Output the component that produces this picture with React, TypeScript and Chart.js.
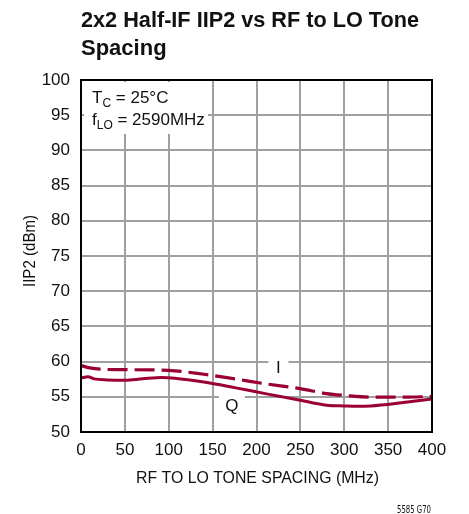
import React, { useEffect, useRef } from "react";
import { Chart, registerables } from "chart.js";

Chart.register(...registerables);

const titleLines = ["2x2 Half-IF IIP2 vs RF to LO Tone", "Spacing"];
const xAxisTitle = "RF TO LO TONE SPACING (MHz)";
const yAxisTitle = "IIP2 (dBm)";
const footnote = "5585 G70";

const xMin = 0;
const xMax = 400;
const xStep = 50;
const yMin = 50;
const yMax = 100;
const yStep = 5;

const freqI = [0, 10, 25, 50, 100, 140, 175, 210, 250, 280, 300, 330, 365, 400];
const iip2I = [59.45, 59.1, 58.9, 58.85, 58.75, 58.2, 57.55, 56.85, 56.15, 55.45, 55.2, 54.95, 54.95, 55.05];

const freqQ = [0, 8, 15, 30, 50, 70, 92, 107, 140, 175, 210, 250, 280, 300, 315, 330, 365, 400];
const iip2Q = [57.65, 57.85, 57.55, 57.4, 57.35, 57.55, 57.75, 57.65, 57.1, 56.3, 55.45, 54.5, 53.8, 53.7, 53.65, 53.7, 54.15, 54.7];

const LINE = "#9b0033";
const FONT = "'Liberation Sans', Arial, sans-serif";

const decorPlugin = {
  id: "decor",
  beforeDatasetsDraw(chart: any) {
    const ctx = chart.ctx;
    const x = chart.scales.x;
    const y = chart.scales.y;
    ctx.save();
    ctx.fillStyle = "#ffffff";
    // legend box
    ctx.fillRect(x.left + 3, y.top + 2, 124, 52);
    // I label box
    const ix = x.getPixelForValue(225);
    const iy = y.getPixelForValue(59);
    ctx.fillRect(ix - 10, iy - 9, 20, 18);
    // Q label box
    const qx = x.getPixelForValue(172);
    const qy = y.getPixelForValue(53.7);
    ctx.fillRect(qx - 13, qy - 14, 26, 24);

    ctx.fillStyle = "#111";
    ctx.textBaseline = "alphabetic";
    ctx.textAlign = "left";
    // T_C = 25°C
    let tx = 92;
    ctx.font = `17px ${FONT}`;
    ctx.fillText("T", tx, 103);
    tx += ctx.measureText("T").width;
    ctx.font = `12px ${FONT}`;
    ctx.fillText("C", tx, 107);
    tx += ctx.measureText("C").width;
    ctx.font = `17px ${FONT}`;
    ctx.fillText(" = 25°C", tx, 103);
    // f_LO = 2590MHz
    tx = 92;
    ctx.fillText("f", tx, 125);
    tx += ctx.measureText("f").width;
    ctx.font = `12px ${FONT}`;
    ctx.fillText("LO", tx, 129);
    tx += ctx.measureText("LO").width;
    ctx.font = `17px ${FONT}`;
    ctx.fillText(" = 2590MHz", tx, 125);

    ctx.textAlign = "center";
    ctx.textBaseline = "middle";
    ctx.fillText("I", ix, iy);
    ctx.fillText("Q", qx, qy);
    ctx.restore();
  },
  afterDatasetsDraw(chart: any) {
    const ctx = chart.ctx;
    const a = chart.chartArea;
    ctx.save();
    ctx.strokeStyle = "#000";
    ctx.lineWidth = 2;
    ctx.strokeRect(a.left, a.top, a.right - a.left, a.bottom - a.top);
    ctx.restore();
  },
  afterDraw(chart: any) {
    const ctx = chart.ctx;
    ctx.save();
    ctx.fillStyle = "#111";
    ctx.font = `bold 22px ${FONT}`;
    ctx.textAlign = "left";
    ctx.textBaseline = "alphabetic";
    ctx.fillText(titleLines[0], 81, 27, 338);
    ctx.fillText(titleLines[1], 81, 55);

    ctx.font = `17px ${FONT}`;
    ctx.textAlign = "center";
    ctx.fillText(xAxisTitle, 257.5, 483, 243);

    ctx.save();
    ctx.translate(35, 251);
    ctx.rotate(-Math.PI / 2);
    ctx.fillText(yAxisTitle, 0, 0, 72);
    ctx.restore();

    ctx.font = `10px 'Liberation Sans Narrow', 'DejaVu Sans Condensed', ${FONT}`;
    ctx.textAlign = "right";
    ctx.fillText(footnote, 431, 513, 34);
    ctx.restore();
  },
};

export default function App() {
  const ref = useRef<HTMLCanvasElement>(null);
  useEffect(() => {
    if (!ref.current) return;
    const chart = new Chart(ref.current, {
      type: "line",
      data: {
        datasets: [
          {
            label: "I",
            data: freqI.map((f, i) => ({ x: f, y: iip2I[i] })),
            borderColor: LINE,
            borderWidth: 3.2,
            borderDash: [20, 7],
            pointRadius: 0,
            cubicInterpolationMode: "monotone",
            fill: false,
          },
          {
            label: "Q",
            data: freqQ.map((f, i) => ({ x: f, y: iip2Q[i] })),
            borderColor: LINE,
            borderWidth: 3,
            pointRadius: 0,
            cubicInterpolationMode: "monotone",
            fill: false,
          },
        ],
      },
      options: {
        animation: false,
        responsive: false,
        devicePixelRatio: 1,
        layout: { padding: { left: 0, top: 80, right: 37, bottom: 0 } },
        plugins: { legend: { display: false }, tooltip: { enabled: false } },
        scales: {
          x: {
            type: "linear",
            min: xMin,
            max: xMax,
            afterFit: (s: any) => {
              s.height = 82;
            },
            ticks: { stepSize: xStep, padding: 8, color: "#111", font: { size: 17, family: FONT } },
            grid: { color: "#a0a0a0", lineWidth: 2, drawTicks: false },
            border: { display: false },
          },
          y: {
            type: "linear",
            min: yMin,
            max: yMax,
            afterFit: (s: any) => {
              s.width = 81;
            },
            ticks: { stepSize: yStep, padding: 11, color: "#111", font: { size: 17, family: FONT } },
            grid: { color: "#a0a0a0", lineWidth: 2, drawTicks: false },
            border: { display: false },
          },
        },
      },
      plugins: [decorPlugin],
    } as any);
    return () => chart.destroy();
  }, []);
  return (
    <canvas
      ref={ref}
      width={469}
      height={514}
      style={{ position: "absolute", left: 0, top: 0, width: 469, height: 514 }}
    />
  );
}
